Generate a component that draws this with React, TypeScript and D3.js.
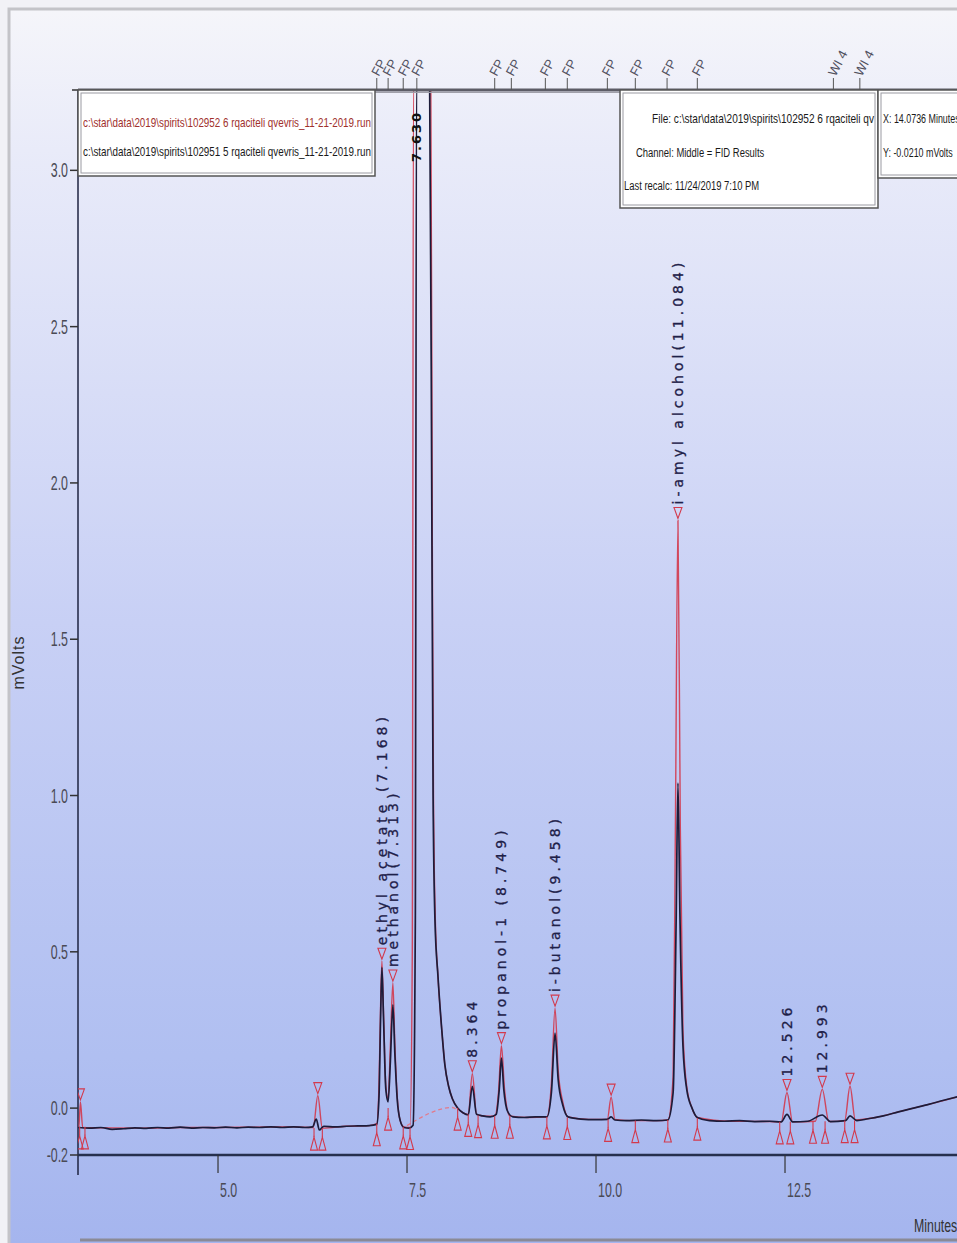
import * as d3 from "d3";

// red trace: c:\star\data\2019\spirits\102952 6 ...
const sample6: [number, number][] = [
  [3.15, -0.06], [3.16, -0.06], [3.18, 0.02], [3.21, -0.062], [3.5, -0.063], [4.0, -0.064],
  [4.5, -0.062], [5.0, -0.062], [5.5, -0.061], [6.0, -0.06], [6.26, -0.062], [6.32, 0.04],
  [6.38, -0.064], [6.7, -0.058], [7.0, -0.056], [7.1, -0.05], [7.13, 0.08], [7.15, 0.32],
  [7.168, 0.47], [7.19, 0.3], [7.22, 0.07], [7.25, 0.03], [7.28, 0.2], [7.313, 0.4],
  [7.34, 0.2], [7.37, 0.04], [7.41, -0.04], [7.46, -0.06], [7.54, -0.062], [7.57, 0.5],
  [7.585, 4.5], [7.815, 4.5], [7.835, 1.8], [7.85, 1.0], [7.875, 0.6], [7.91, 0.42],
  [7.96, 0.25], [8.0, 0.14], [8.05, 0.07], [8.1, 0.03], [8.17, 0.0], [8.24, -0.015],
  [8.31, -0.02], [8.364, 0.11], [8.42, -0.02], [8.55, -0.026], [8.66, -0.025], [8.71, 0.05],
  [8.749, 0.2], [8.79, 0.06], [8.86, -0.025], [9.1, -0.03], [9.35, -0.028], [9.41, 0.08],
  [9.458, 0.32], [9.5, 0.12], [9.56, 0.02], [9.63, -0.028], [9.9, -0.036], [10.15, -0.036],
  [10.2, 0.035], [10.25, -0.036], [10.5, -0.04], [10.8, -0.04], [10.95, -0.038], [11.02, 0.1],
  [11.05, 0.9], [11.084, 1.88], [11.115, 0.9], [11.15, 0.25], [11.2, 0.07], [11.27, 0.0],
  [11.34, -0.03], [11.8, -0.042], [12.3, -0.043], [12.45, -0.044], [12.526, 0.05], [12.6, -0.044],
  [12.9, -0.042], [12.993, 0.06], [13.08, -0.043], [13.29, -0.04], [13.36, 0.07], [13.43, -0.038],
  [13.7, -0.03], [14.0, -0.012], [14.4, 0.012], [14.78, 0.036],
];

// dark trace: c:\star\data\2019\spirits\102951 5 ...
const sample5: [number, number][] = [
  [3.15, -0.062], [3.3, -0.064], [3.45, -0.062], [3.6, -0.068], [3.75, -0.066], [3.9, -0.063],
  [4.05, -0.065], [4.2, -0.062], [4.35, -0.064], [4.5, -0.061], [4.65, -0.064], [4.8, -0.062],
  [4.95, -0.063], [5.1, -0.061], [5.25, -0.063], [5.4, -0.061], [5.55, -0.062], [5.7, -0.06],
  [5.85, -0.062], [6.0, -0.06], [6.15, -0.062], [6.25, -0.06], [6.3, -0.035], [6.34, -0.07],
  [6.4, -0.058], [6.55, -0.06], [6.7, -0.058], [6.85, -0.057], [7.0, -0.056], [7.1, -0.052],
  [7.13, 0.04], [7.15, 0.28], [7.168, 0.45], [7.19, 0.28], [7.22, 0.06], [7.25, 0.02],
  [7.28, 0.15], [7.313, 0.33], [7.34, 0.17], [7.37, 0.03], [7.41, -0.04], [7.46, -0.062],
  [7.53, -0.064], [7.58, -0.055], [7.61, 0.6], [7.625, 4.5], [7.8, 4.5], [7.83, 1.8],
  [7.845, 1.0], [7.87, 0.6], [7.91, 0.42], [7.96, 0.25], [8.0, 0.14], [8.05, 0.07],
  [8.1, 0.03], [8.17, 0.0], [8.24, -0.015], [8.31, -0.022], [8.364, 0.07], [8.42, -0.02],
  [8.5, -0.025], [8.6, -0.028], [8.68, -0.02], [8.72, 0.06], [8.749, 0.16], [8.78, 0.06],
  [8.83, -0.01], [8.9, -0.028], [9.05, -0.03], [9.2, -0.028], [9.35, -0.028], [9.41, 0.05],
  [9.458, 0.24], [9.5, 0.09], [9.56, 0.01], [9.63, -0.028], [9.8, -0.035], [10.0, -0.037],
  [10.15, -0.036], [10.2, -0.028], [10.25, -0.038], [10.4, -0.04], [10.6, -0.038], [10.8, -0.04],
  [10.95, -0.038], [11.02, 0.05], [11.06, 0.6], [11.084, 1.04], [11.11, 0.62], [11.15, 0.2],
  [11.2, 0.06], [11.27, 0.0], [11.34, -0.03], [11.5, -0.04], [11.7, -0.042], [11.9, -0.04],
  [12.1, -0.043], [12.3, -0.042], [12.45, -0.044], [12.526, -0.02], [12.6, -0.044], [12.8, -0.042],
  [12.993, -0.022], [13.1, -0.043], [13.3, -0.04], [13.36, -0.025], [13.45, -0.04], [13.6, -0.034],
  [13.8, -0.025], [14.0, -0.012], [14.2, 0.0], [14.4, 0.012], [14.6, 0.025], [14.78, 0.036],
];

const integrationBaseline: [number, number][] = [[7.5, -0.056], [8.1, 0.002], [8.17, -0.008]];

// peak start / end markers (time, trace level)
const peakBounds: [number, number][] = [
  [3.17, -0.06], [3.24, -0.06], [6.27, -0.064], [6.38, -0.064],
  [7.1, -0.05], [7.25, 0.0], [7.45, -0.06], [7.54, -0.062],
  [8.17, 0.0], [8.31, -0.02], [8.44, -0.024], [8.66, -0.026], [8.86, -0.026],
  [9.35, -0.028], [9.62, -0.03], [10.16, -0.036], [10.52, -0.04],
  [10.95, -0.038], [11.34, -0.032], [12.43, -0.044], [12.57, -0.044],
  [12.87, -0.042], [13.03, -0.042], [13.29, -0.04], [13.42, -0.04],
];

// peak apex markers (time, red apex)
const apexTimes = [3.18, 6.32, 7.168, 7.313, 8.364, 8.749, 9.458, 10.2, 11.084, 12.526, 12.993, 13.36];
const apexValues = [0.02, 0.04, 0.47, 0.4, 0.11, 0.2, 0.32, 0.035, 1.88, 0.05, 0.06, 0.07];

const peakLabels = [
  "ethyl acetate (7.168)", "methanol(7.313)", "8.364", "propanol-1  (8.749)",
  "i-butanol(9.458)", "i-amyl alcohol(11.084)", "12.526", "12.993",
];
const peakLabelTimes = [7.168, 7.313, 8.364, 8.749, 9.458, 11.084, 12.526, 12.993];
const peakLabelValues = [0.47, 0.4, 0.11, 0.2, 0.32, 1.88, 0.05, 0.06];

// time events along the top axis
const eventTimes = [7.1, 7.25, 7.45, 7.63, 8.66, 8.88, 9.33, 9.62, 10.15, 10.52, 10.94, 11.34, 13.14, 13.49];
const eventLabels = ["FP", "FP", "FP", "FP", "FP", "FP", "FP", "FP", "FP", "FP", "FP", "FP", "WI 4", "WI 4"];

const xTicks = [5.0, 7.5, 10.0, 12.5];
const xTickLabels = ["5.0", "7.5", "10.0", "12.5"];
const yTicks = [-0.15, 0.0, 0.5, 1.0, 1.5, 2.0, 2.5, 3.0];
const yTickLabels = ["-0.2", "0.0", "0.5", "1.0", "1.5", "2.0", "2.5", "3.0"];

const runFiles = [
  "c:\\star\\data\\2019\\spirits\\102952 6 rqaciteli qvevris_11-21-2019.run",
  "c:\\star\\data\\2019\\spirits\\102951 5 rqaciteli qvevris_11-21-2019.run",
];
// the info box only shows the start of the file path
const fileLine = "File: c:\\star\\data\\2019\\spirits\\102952 6 rqaciteli qv";

const sans = "'Liberation Sans', Arial, sans-serif";

// condensed look: the reference uses a narrow face, so squeeze a normal one
function Narrow(props: {
  x: number;
  y: number;
  size: number;
  fill: string;
  anchor?: string;
  sx?: number;
  children: string;
}) {
  const { x, y, size, fill, anchor = "start", sx = 0.72, children } = props;
  return (
    <text
      transform={`translate(${x},${y}) scale(${sx},1)`}
      textAnchor={anchor}
      fontFamily={sans}
      fontSize={size}
      fill={fill}
    >
      {children}
    </text>
  );
}

export default function App() {
  const width = 957;
  const height = 1243;
  const left = 78;
  const top = 90;
  const bottom = 1155;
  const right = 957;

  const x = d3.scaleLinear().domain([3.148, 14.775]).range([left, right]);
  const y = d3.scaleLinear().domain([-0.15, 3.257]).range([bottom, top]).clamp(true);

  const line = d3
    .line<[number, number]>()
    .x((d) => x(d[0]))
    .y((d) => y(d[1]))
    .curve(d3.curveMonotoneX);

  const red = "#d3394c";

  return (
    <svg
      width={width}
      height={height}
      style={{ position: "absolute", left: 0, top: 0 }}
    >
      <defs>
        <linearGradient id="bg" x1="0" y1="0" x2="0" y2="1">
          <stop offset="0" stopColor="#f6f6fa" />
          <stop offset="0.12" stopColor="#e9ebf9" />
          <stop offset="0.5" stopColor="#c8d0f5" />
          <stop offset="0.85" stopColor="#b0bff1" />
          <stop offset="1" stopColor="#a5b5ee" />
        </linearGradient>
        <clipPath id="plot">
          <rect x={left} y={top} width={right - left + 20} height={bottom - top} />
        </clipPath>
        <clipPath id="infoClip">
          <rect x={620} y={top} width={257} height={118} />
        </clipPath>
      </defs>

      <rect width={width} height={height} fill="url(#bg)" />
      <rect x={0} y={0} width={8} height={height} fill="#f2f2f6" />
      <rect x={0} y={0} width={width} height={8} fill="#f2f2f6" />
      <path d={`M9,${height} V9 H${width}`} fill="none" stroke="#c4c4c8" strokeWidth={3} />
      <line x1={80} x2={width} y1={1240} y2={1240} stroke="#8a8a96" strokeWidth={3} />

      {/* y axis */}
      <line x1={left} x2={left} y1={top} y2={1175} stroke="#1e2340" strokeWidth={1.5} />
      <line x1={left - 6} x2={left} y1={top} y2={top} stroke="#333" strokeWidth={1.5} />
      {yTicks.map((t, i) => (
        <g key={t}>
          <line x1={left - 8} x2={left} y1={y(t)} y2={y(t)} stroke="#333" strokeWidth={1.5} />
          <Narrow x={left - 10} y={y(t) + 7} size={20} fill="#4a4a55" anchor="end" sx={0.62}>
            {yTickLabels[i]}
          </Narrow>
        </g>
      ))}
      <text
        transform={`translate(24,${(top + bottom) / 2 + 40}) rotate(-90)`}
        textAnchor="middle"
        fontFamily={sans}
        fontSize={16}
        fill="#333"
        letterSpacing={1}
      >
        mVolts
      </text>

      {/* x axis */}
      <line x1={left} x2={right} y1={bottom} y2={bottom} stroke="#26304e" strokeWidth={2.5} />
      {xTicks.map((t, i) => (
        <g key={t}>
          <line x1={x(t)} x2={x(t)} y1={bottom} y2={bottom + 18} stroke="#333" strokeWidth={1.2} />
          <Narrow x={x(t) + 2} y={bottom + 42} size={20} fill="#4a4a55" sx={0.62}>
            {xTickLabels[i]}
          </Narrow>
        </g>
      ))}
      <Narrow x={914} y={1232} size={19} fill="#333" sx={0.65}>
        Minutes
      </Narrow>

      {/* traces */}
      <g clipPath="url(#plot)">
        <path d={line(integrationBaseline) ?? ""} fill="none" stroke="#e27a8a" strokeWidth={1.3} strokeDasharray="4,3" />
        <path d={line(sample6) ?? ""} fill="none" stroke={red} strokeWidth={1.4} strokeOpacity={0.9} />
        <path d={line(sample5) ?? ""} fill="none" stroke="#1c1c3a" strokeWidth={1.7} />

        {peakBounds.map(([t, v], i) => {
          const px = x(t);
          const py = y(v);
          return (
            <g key={"b" + i} stroke={red} strokeWidth={1.1} fill="none">
              <line x1={px} x2={px} y1={py} y2={py + 9} />
              <path d={`M${px},${py + 9} L${px - 3.5},${py + 22} L${px + 3.5},${py + 22} Z`} />
            </g>
          );
        })}

        {apexTimes.map((t, i) => {
          const px = x(t);
          const py = y(apexValues[i]) - 2;
          return (
            <path
              key={"a" + i}
              d={`M${px},${py} L${px - 4},${py - 11} L${px + 4},${py - 11} Z`}
              fill="none"
              stroke={red}
              strokeWidth={1.1}
            />
          );
        })}

        {peakLabels.map((label, i) => (
          <text
            key={label}
            transform={`translate(${x(peakLabelTimes[i])},${y(peakLabelValues[i]) - 16}) rotate(-90)`}
            dy="0.35em"
            fontFamily="'DejaVu Sans', sans-serif"
            fontSize={14}
            letterSpacing={4}
            fill="#1e2048"
            stroke="#1e2048"
            strokeWidth={0.3}
          >
            {label}
          </text>
        ))}
        <text
          transform={`translate(${x(7.625)},${top + 72}) rotate(-90)`}
          dy="0.35em"
          fontFamily="'DejaVu Sans', sans-serif"
          fontSize={13}
          fontWeight="bold"
          letterSpacing={2}
          fill="#111"
        >
          7.630
        </text>
      </g>

      {/* top axis with time events */}
      <line x1={left} x2={width} y1={top} y2={top} stroke="#5c5c66" strokeWidth={3} />
      <line x1={left} x2={width} y1={top + 2.5} y2={top + 2.5} stroke="#a0a0aa" strokeWidth={1} />
      {eventTimes.map((t, i) => (
        <g key={"e" + i}>
          <line x1={x(t)} x2={x(t)} y1={top - 12} y2={top} stroke="#555" strokeWidth={1} />
          <text
            transform={`translate(${x(t) + 2},${top - 13}) rotate(-62)`}
            fontFamily={sans}
            fontSize={13}
            fill="#50505e"
          >
            {eventLabels[i]}
          </text>
        </g>
      ))}

      {/* run file legend */}
      <rect x={left} y={top} width={297} height={86} fill="#fff" stroke="#555" strokeWidth={1.5} />
      <rect x={left + 3} y={top + 3} width={291} height={80} fill="none" stroke="#9a9aa2" strokeWidth={1} />
      <text x={left + 5} y={top + 37} fontFamily={sans} fontSize={13} fill="#a0302c" textLength={288} lengthAdjust="spacingAndGlyphs">
        {runFiles[0]}
      </text>
      <text x={left + 5} y={top + 66} fontFamily={sans} fontSize={13} fill="#1a1a1a" textLength={288} lengthAdjust="spacingAndGlyphs">
        {runFiles[1]}
      </text>

      {/* file info box */}
      <rect x={620} y={top} width={258} height={118} fill="#fff" stroke="#555" strokeWidth={1.5} />
      <rect x={623} y={top + 3} width={252} height={112} fill="none" stroke="#9a9aa2" strokeWidth={1} />
      <g clipPath="url(#infoClip)">
        <text x={652} y={top + 33} fontFamily={sans} fontSize={13.5} fill="#1a1a1a" textLength={222} lengthAdjust="spacingAndGlyphs">
          {fileLine}
        </text>
        <Narrow x={636} y={top + 67} size={13.5} fill="#1a1a1a" sx={0.7}>
          Channel: Middle = FID  Results
        </Narrow>
        <Narrow x={624} y={top + 100} size={13.5} fill="#1a1a1a" sx={0.7}>
          Last recalc: 11/24/2019 7:10 PM
        </Narrow>
      </g>

      {/* cursor box */}
      <rect x={878} y={top} width={90} height={88} fill="#fff" stroke="#555" strokeWidth={1.5} />
      <rect x={881} y={top + 3} width={84} height={82} fill="none" stroke="#9a9aa2" strokeWidth={1} />
      <Narrow x={883} y={top + 33} size={13.5} fill="#1a1a1a" sx={0.66}>
        X: 14.0736 Minutes
      </Narrow>
      <Narrow x={883} y={top + 67} size={13.5} fill="#1a1a1a" sx={0.66}>
        Y: -0.0210 mVolts
      </Narrow>
    </svg>
  );
}
